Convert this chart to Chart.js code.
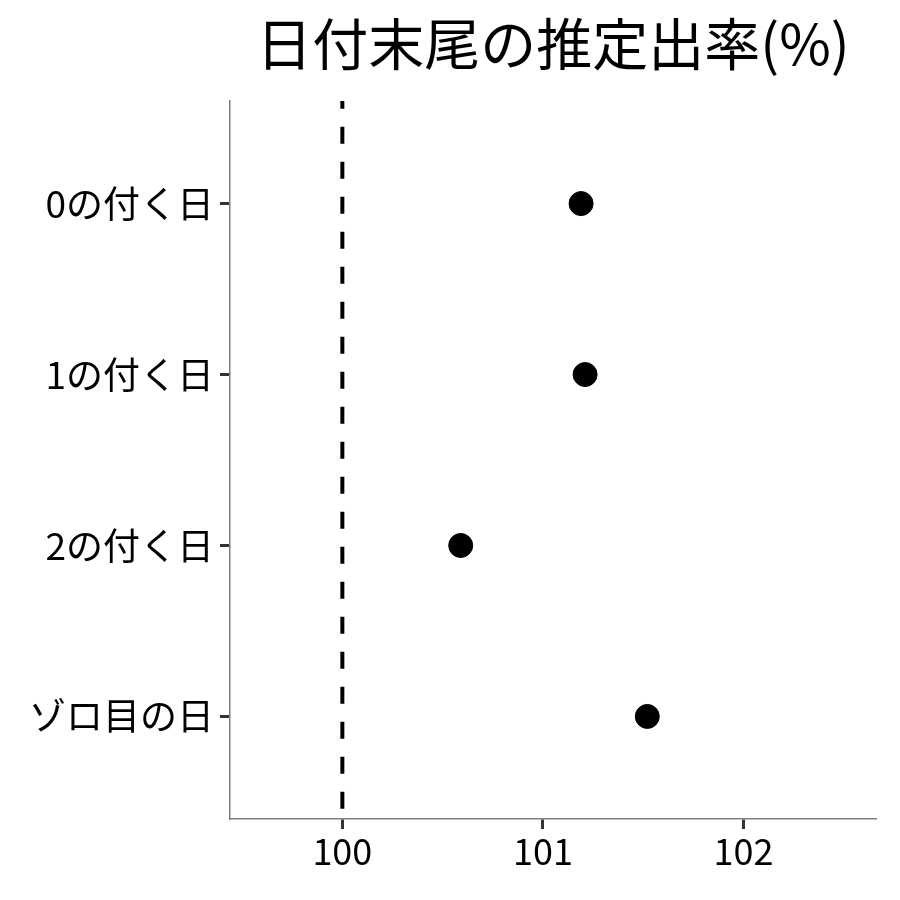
<!DOCTYPE html>
<html><head><meta charset="utf-8">
<script src="https://cdn.jsdelivr.net/npm/chart.js@4"></script>
<style>html,body{margin:0;padding:0;background:#fff}#wrap{width:900px;height:900px}</style>
</head><body><div id="wrap"><canvas id="c" width="900" height="900"></canvas></div>
<script>
const title = "日付末尾の推定出率(%)";
const categories = ["0の付く日", "1の付く日", "2の付く日", "ゾロ目の日"];
const values = [101.19, 101.21, 100.59, 101.52];
const xTicks = [100, 101, 102];
const refLine = 100;

const FONT = "'Noto Sans CJK JP', 'Noto Sans', sans-serif";

const titlePlugin = {
  id: 'plotTitle',
  afterDraw(chart) {
    const ctx = chart.ctx, a = chart.chartArea;
    ctx.save();
    ctx.font = "56px " + FONT;
    ctx.fillStyle = '#000';
    ctx.textAlign = 'center';
    ctx.textBaseline = 'alphabetic';
    ctx.fillText(title, (a.left + a.right) / 2, 65);
    ctx.restore();
  }
};

new Chart(document.getElementById('c'), {
  type: 'scatter',
  data: {
    datasets: [
      {
        type: 'line',
        data: [{x: refLine, y: -0.6}, {x: refLine, y: 3.6}],
        borderColor: '#000',
        borderWidth: 4,
        borderDash: [17, 18],
        borderDashOffset: 9.3,
        pointRadius: 0,
        fill: false
      },
      {
        data: values.map((v, i) => ({x: v, y: i})),
        backgroundColor: '#000',
        borderColor: '#000',
        pointRadius: 12,
        pointHoverRadius: 12
      }
    ]
  },
  options: {
    responsive: false,
    animation: false,
    events: [],
    layout: {padding: {top: 101, right: 24, left: 10, bottom: 0}},
    plugins: {legend: {display: false}, tooltip: {enabled: false}},
    scales: {
      x: {
        type: 'linear',
        min: 99.44, max: 102.66,
        afterBuildTicks(s) { s.ticks = xTicks.map(v => ({value: v})); },
        afterFit(s) { s.height = 81; },
        grid: {drawOnChartArea: false, drawTicks: true, tickLength: 10, tickColor: '#333', tickWidth: 3},
        border: {display: true, color: '#7f7f7f', width: 1.5},
        ticks: {font: {family: FONT, size: 36}, color: '#000', padding: 1, maxRotation: 0}
      },
      y: {
        type: 'linear',
        reverse: true,
        min: -0.6, max: 3.6,
        afterBuildTicks(s) { s.ticks = categories.map((c, i) => ({value: i})); },
        afterFit(s) { s.width = 220; },
        grid: {drawOnChartArea: false, drawTicks: true, tickLength: 10, tickColor: '#333', tickWidth: 3},
        border: {display: true, color: '#7f7f7f', width: 1.5},
        ticks: {font: {family: FONT, size: 37}, color: '#000', padding: 6,
          callback: (v) => categories[v] !== undefined ? categories[v] : ''}
      }
    }
  },
  plugins: [titlePlugin]
});
</script></body></html>
